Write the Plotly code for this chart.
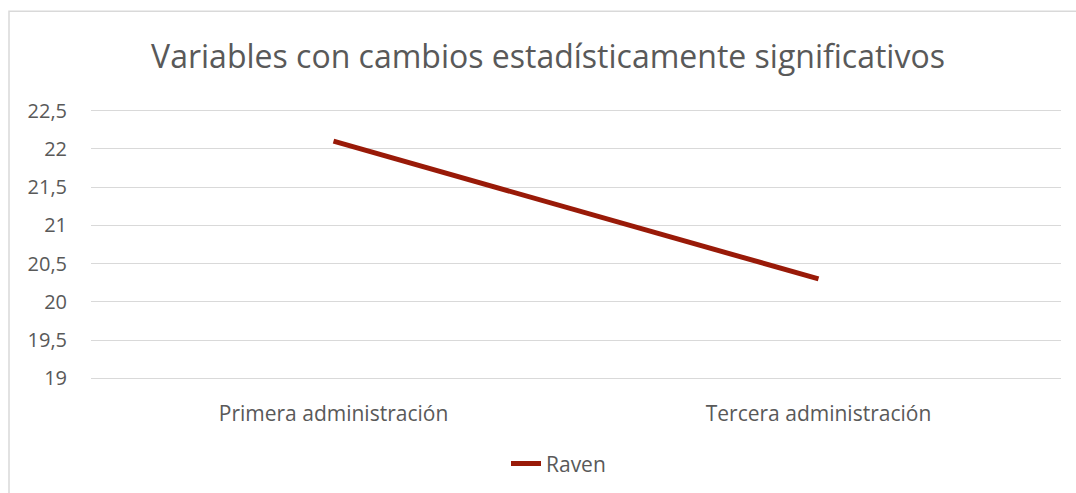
import plotly.graph_objects as go

categories = ["Primera administración", "Tercera administración"]
raven = [22.1, 20.3]
series_name = "Raven"
y_ticks = [19, 19.5, 20, 20.5, 21, 21.5, 22, 22.5]
title_text = "Variables con cambios estadísticamente significativos"

W, H = 1076, 493
PAD = 0.02
L, R = 91, 15
# plot area pixel span for 19..22.5 is 111..378; expand by PAD so edge gridlines show
span_px = 378 - 111
pad_px = span_px * PAD / 3.5
T = 111 - pad_px
B = H - 378 - pad_px
pw, ph = W - L - R, H - T - B

def px_x(p):
    return (p - L) / pw

def px_y(p):
    return (H - B - p) / ph

FONT = "'Open Sans', sans-serif"
GRAY = "#595959"

fig = go.Figure()
fig.add_trace(go.Scatter(
    x=categories, y=raven, mode="lines", name=series_name,
    line=dict(color="#991A08", width=5),
))

fig.update_layout(
    width=W, height=H,
    margin=dict(l=L, r=R, t=T, b=B, autoexpand=False),
    paper_bgcolor="white", plot_bgcolor="white",
    separators=",.",
    title=dict(text=title_text, x=548 / W, xanchor="center", xref="container",
               y=1 - 57 / H, yanchor="middle",
               font=dict(family=FONT, size=32, color=GRAY)),
    showlegend=True,
    legend=dict(orientation="h", x=px_x(506), xanchor="left",
                y=px_y(463), yanchor="middle",
                font=dict(family=FONT, size=21, color=GRAY)),
    shapes=[dict(type="rect", xref="paper", yref="paper",
                 x0=px_x(9), x1=px_x(1090), y0=px_y(510), y1=px_y(12),
                 line=dict(color="#d9d9d9", width=1.5), layer="below")],
)
fig.update_xaxes(showgrid=False, showline=False, zeroline=False,
                 range=[-0.5, 1.5], automargin=False,
                 ticks="", ticklabelstandoff=int(round(21 - pad_px)),
                 tickfont=dict(family=FONT, size=21, color=GRAY))
fig.update_yaxes(range=[19 - PAD, 22.5 + PAD], tickvals=y_ticks, showgrid=True,
                 gridcolor="#d9d9d9", gridwidth=1.2, zeroline=False,
                 automargin=False,
                 showline=False, ticks="", ticklabelstandoff=23,
                 tickfont=dict(family=FONT, size=20, color=GRAY))

fig.write_html("out.html")
